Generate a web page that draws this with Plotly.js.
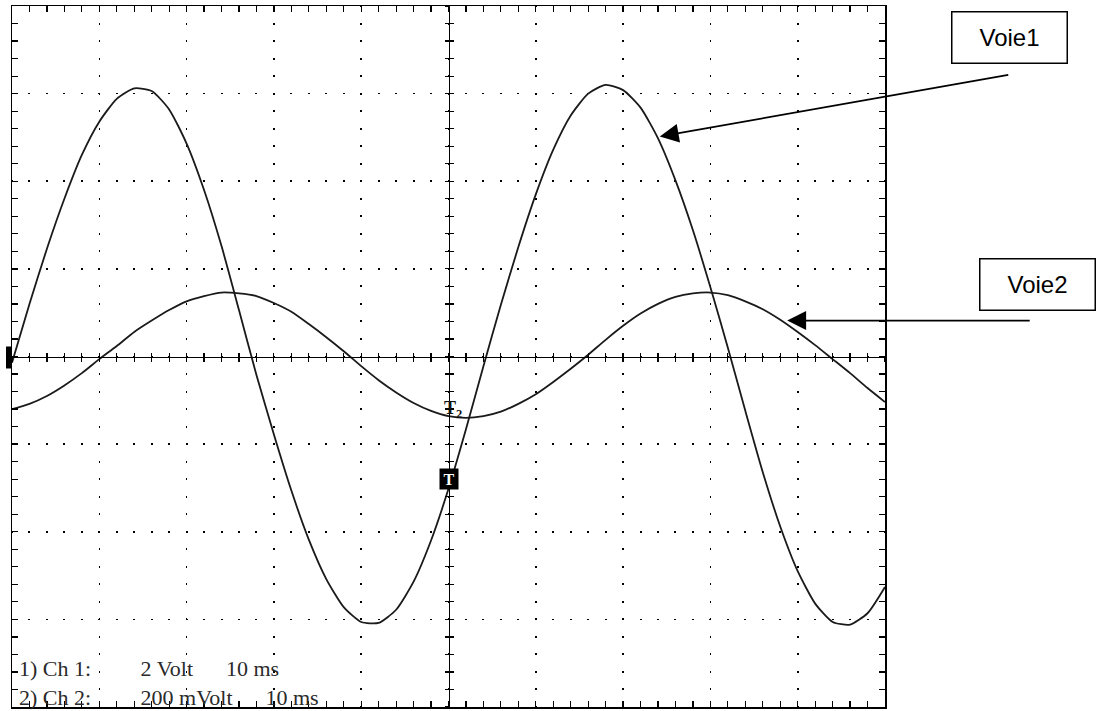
<!DOCTYPE html>
<html>
<head>
<meta charset="utf-8">
<script src="https://cdn.plot.ly/plotly-3.0.1.min.js"></script>
<style>html,body{margin:0;padding:0;background:#fff;}#chart{width:1097px;height:711px;}</style>
</head>
<body>
<div id="chart"></div>
<script>
// Time axis (ms), 10 ms / div
const timeMs = [0,2,4,6,8,10,12,14,16,18,20,22,24,26,28,30,32,34,36,38,40,42,44,46,48,50,
  52,54,56,58,60,62,64,66,68,70,72,74,76,78,80,82,84,86,88,90,92,94,96,98,100];
// Voie 1 (Ch 1, 2 V/div), volts
const ch1Volt = [-0.14,1.20,2.46,3.60,4.60,5.36,5.88,6.12,6.06,5.64,4.86,3.80,2.52,1.06,-0.42,-1.78,
  -3.06,-4.18,-5.08,-5.72,-6.06,-6.08,-5.78,-5.14,-4.20,-3.02,-1.66,-0.22,1.18,2.50,3.70,4.72,5.50,
  6.00,6.20,6.08,5.68,4.98,4.02,2.88,1.58,0.20,-1.24,-2.64,-3.88,-4.90,-5.64,-6.06,-6.12,-5.86,-5.26];
// Voie 2 (Ch 2, 200 mV/div), millivolts
const ch2mVolt = [-120,-108,-90,-66,-38,-6,24,56,82,106,126,138,146,144,138,122,102,74,44,12,-22,
  -54,-82,-106,-124,-136,-140,-136,-126,-108,-86,-58,-28,4,38,70,98,120,136,144,146,140,126,108,84,
  56,26,-6,-38,-72,-104];
// Scope read-out texts
const infoLine1 = ["1) Ch 1:", "2 Volt", "10 ms"];
const infoLine2 = ["2) Ch 2:", "200 mVolt", "10 ms"];
const channelLabels = ["Voie1", "Voie2"];

const nb = n => '\u00a0'.repeat(n);
const infoText = infoLine1[0] + nb(9) + infoLine1[1] + nb(6) + infoLine1[2] + '<br>' +
                 infoLine2[0] + nb(9) + infoLine2[1] + nb(6) + infoLine2[2];

const traceColor = '#1a1a1a';
// invisible helper point so that the centre graticule axes get drawn
const helper = (xa, ya) => ({x: [timeMs[0]], y: [ch1Volt[0]], xaxis: xa, yaxis: ya, type: 'scatter',
  mode: 'markers', marker: {opacity: 0, size: 1}, hoverinfo: 'skip', showlegend: false});
const data = [
  helper('x2', 'y'), helper('x3', 'y'), helper('x', 'y3'), helper('x', 'y4'),
  {x: timeMs, y: ch1Volt, type: 'scatter', mode: 'lines', xaxis: 'x', yaxis: 'y',
   line: {color: traceColor, width: 1.8, shape: 'spline', smoothing: 0.6}, hoverinfo: 'skip'},
  {x: timeMs, y: ch2mVolt, type: 'scatter', mode: 'lines', xaxis: 'x', yaxis: 'y2',
   line: {color: traceColor, width: 1.8, shape: 'spline', smoothing: 0.6}, hoverinfo: 'skip'}
];

const frameAxis = {
  showline: true, linecolor: '#000', linewidth: 1.5, mirror: 'allticks',
  ticks: 'inside', ticklen: 6, tickcolor: '#000', tickwidth: 1.3,
  showticklabels: false, zeroline: false, showgrid: true,
  gridcolor: '#000', gridwidth: 1.6, fixedrange: true
};
const centerAxis = {
  showline: true, linecolor: '#000', linewidth: 1.4, ticklen: 4, tickcolor: '#000', tickwidth: 1.2,
  showticklabels: false, zeroline: false, showgrid: false, anchor: 'free', position: 0.5, fixedrange: true
};

const layout = {
  width: 1097, height: 711,
  margin: {l: 12, r: 212, t: 6, b: 4},
  paper_bgcolor: '#fff', plot_bgcolor: '#fff',
  showlegend: false,
  xaxis: Object.assign({}, frameAxis, {range: [0, 100], tick0: 0, dtick: 10,
    griddash: '1px,15.525px,1px,0px',
    minor: {tick0: 0, dtick: 2, ticks: 'inside', ticklen: 6, tickcolor: '#000', tickwidth: 1.2, showgrid: false}}),
  yaxis: Object.assign({}, frameAxis, {range: [-8, 8], tick0: 0, dtick: 2,
    griddash: '1px,15.46px,1px,0px',
    minor: {tick0: 0, dtick: 0.4, ticks: 'inside', ticklen: 6, tickcolor: '#000', tickwidth: 1.2, showgrid: false}}),
  yaxis2: {overlaying: 'y', range: [-800, 800], visible: false, fixedrange: true},
  xaxis2: Object.assign({}, centerAxis, {overlaying: 'x', range: [0, 100], tick0: 0, dtick: 2, ticks: 'outside'}),
  xaxis3: Object.assign({}, centerAxis, {overlaying: 'x', range: [0, 100], tick0: 0, dtick: 2, ticks: 'inside'}),
  yaxis3: Object.assign({}, centerAxis, {overlaying: 'y', range: [-8, 8], tick0: 0, dtick: 0.4, ticks: 'outside'}),
  yaxis4: Object.assign({}, centerAxis, {overlaying: 'y', range: [-8, 8], tick0: 0, dtick: 0.4, ticks: 'inside'}),
  shapes: [
    {type: 'rect', xref: 'paper', xsizemode: 'pixel', xanchor: 0, x0: -6, x1: 0,
     yref: 'y', ysizemode: 'pixel', yanchor: 0, y0: -12, y1: 10,
     fillcolor: '#000', line: {width: 0}}
  ],
  annotations: [
    {xref: 'paper', yref: 'paper', x: 0.007, y: -0.005, xanchor: 'left', yanchor: 'bottom', align: 'left',
     showarrow: false, text: infoText, borderpad: 0,
     font: {family: 'Liberation Serif, serif', size: 22, color: '#2a2a2a'}},
    {xref: 'x', yref: 'y', x: 50, y: -2.8, xanchor: 'center', yanchor: 'middle', showarrow: false, text: '<b>T</b>',
     font: {family: 'Liberation Serif, serif', size: 16, color: '#fff'}, bgcolor: '#000', borderpad: 1, width: 16, height: 18},
    {xref: 'x', yref: 'y', x: 50.5, y: -1.22, xanchor: 'center', yanchor: 'middle', showarrow: false, text: '<b>T<sub>2</sub></b>',
     font: {family: 'Liberation Serif, serif', size: 18, color: '#111'}},
    {xref: 'paper', yref: 'paper', x: 1.1426, y: 0.955, xanchor: 'center', yanchor: 'middle', showarrow: false,
     text: channelLabels[0], font: {family: 'Liberation Sans, Arial, sans-serif', size: 24, color: '#000'},
     bordercolor: '#000', borderwidth: 1.5, borderpad: 0, width: 114, height: 50, bgcolor: '#fff'},
    {xref: 'paper', yref: 'paper', x: 1.1745, y: 0.603, xanchor: 'center', yanchor: 'middle', showarrow: false,
     text: channelLabels[1], font: {family: 'Liberation Sans, Arial, sans-serif', size: 24, color: '#000'},
     bordercolor: '#000', borderwidth: 1.5, borderpad: 0, width: 114, height: 50, bgcolor: '#fff'},
    {xref: 'x', yref: 'y', x: 74.2, y: 5.02, text: '', showarrow: true, ax: 350, ay: -62,
     arrowhead: 2, arrowsize: 2.1, arrowwidth: 1.8, arrowcolor: '#000', standoff: 0},
    {xref: 'x', yref: 'y', x: 88.8, y: 0.82, text: '', showarrow: true, ax: 244, ay: 0,
     arrowhead: 2, arrowsize: 2.1, arrowwidth: 1.8, arrowcolor: '#000', standoff: 0}
  ]
};

Plotly.newPlot('chart', data, layout, {displayModeBar: false, staticPlot: true});
</script>
</body>
</html>
